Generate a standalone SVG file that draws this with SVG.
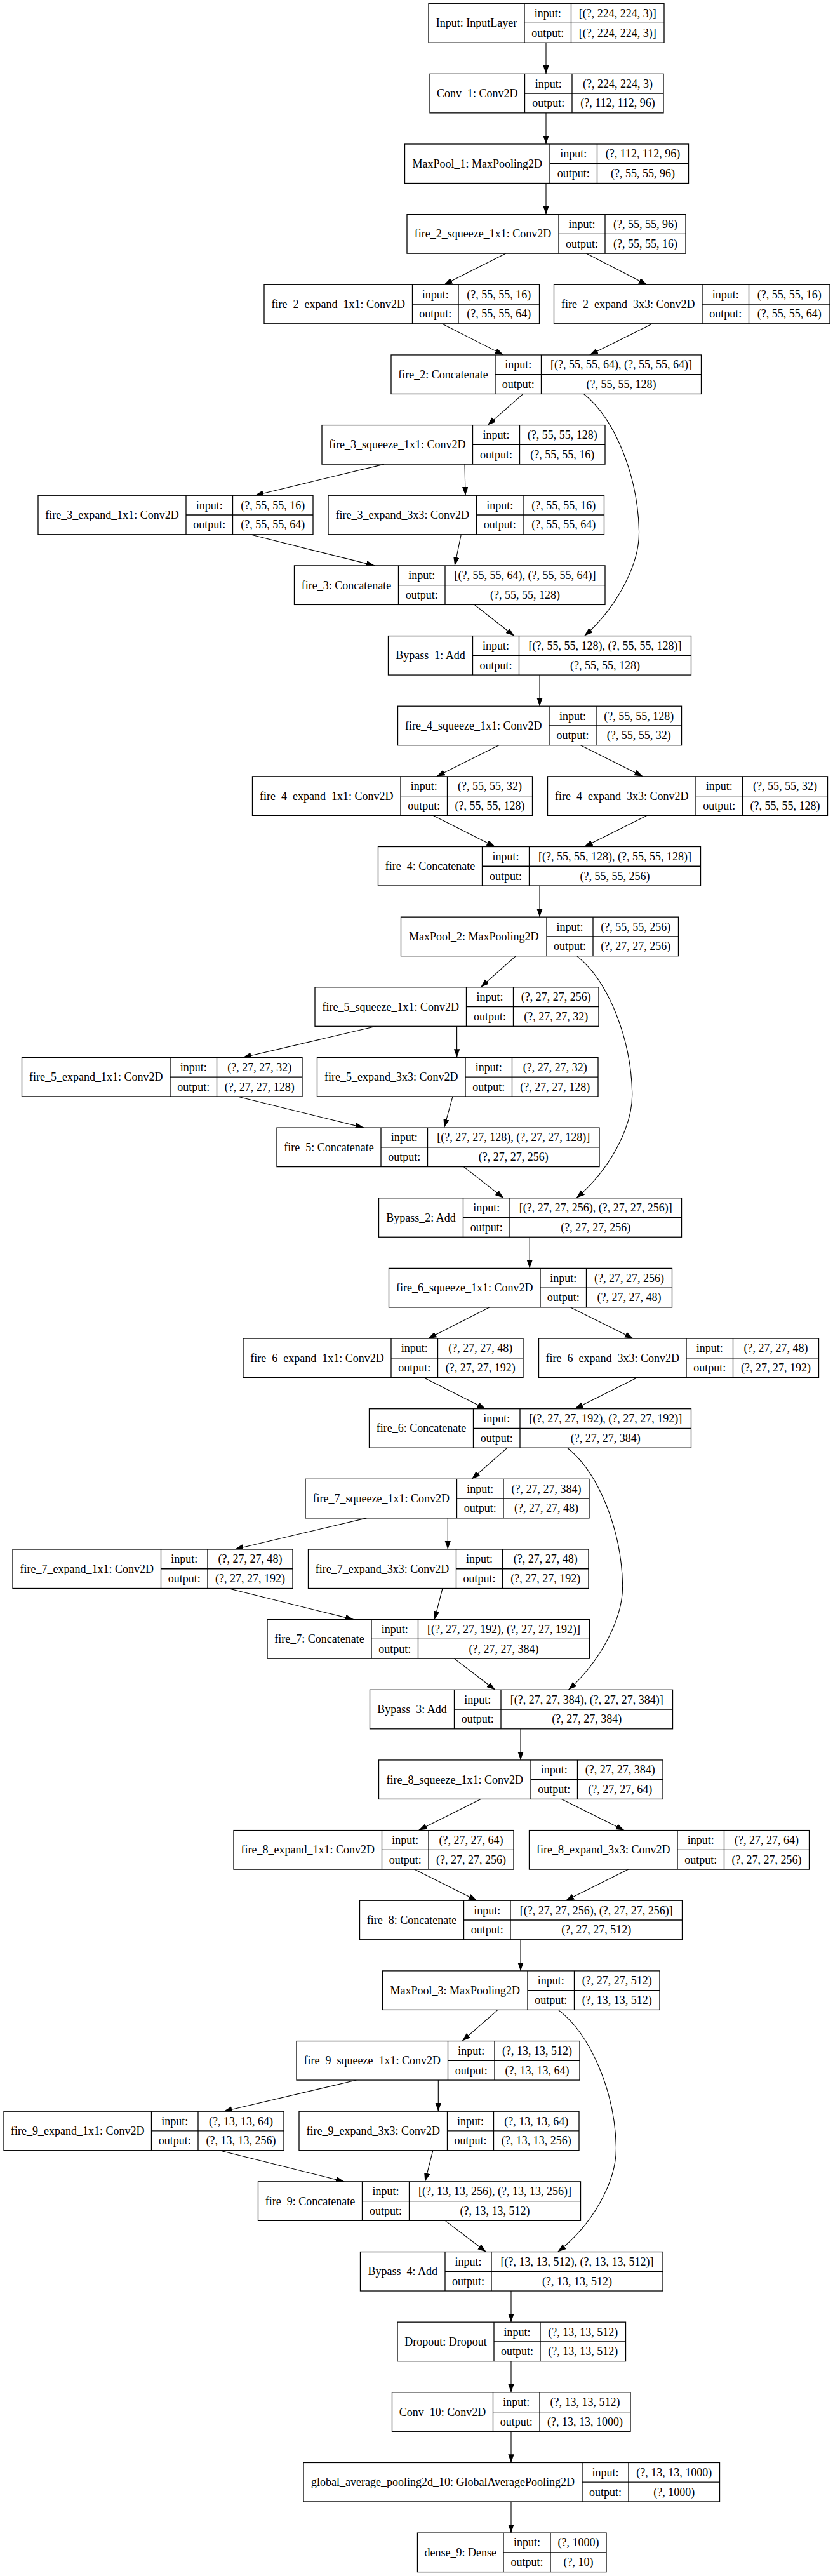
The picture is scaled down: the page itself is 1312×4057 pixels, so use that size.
<svg xmlns="http://www.w3.org/2000/svg" width="1312" height="4057" viewBox="0 0 1312 4057">
<style>
.n rect{fill:#fff;stroke:#000;stroke-width:1.3}
.n line{stroke:#000;stroke-width:1.3}
text{font-family:"Liberation Serif","Times New Roman",serif;font-size:18px;text-anchor:middle;fill:#000}
.e path{fill:none;stroke:#000;stroke-width:1.1;marker-end:url(#ah)}
</style>
<defs>
<marker id="ah" markerUnits="userSpaceOnUse" markerWidth="14" markerHeight="10" refX="13.3" refY="4.7" orient="auto"><path d="M0,0 L13.3,4.7 L0,9.4 z" fill="#000"/></marker>
</defs>
<rect width="1312" height="4057" fill="#fff"/>
<g id="edges" class="e">
<path d="M860,67.2 L860,116.35"/>
<path d="M860,177.85 L860,227"/>
<path d="M860,288.5 L860,337.65"/>
<path d="M796.5,399.15 L699.5,448.3"/>
<path d="M923.7,399.15 L1019,448.3"/>
<path d="M696,509.8 L793,558.95"/>
<path d="M1027.5,509.8 L928.7,558.95"/>
<path d="M824,620.45 L768,669.6"/>
<path d="M919.5,620.45 c50,40 85,130 87,215 c1.5,55 -37,123 -86.1,166.1"/>
<path d="M605,731.1 L401.6,780.25"/>
<path d="M732,731.1 L733,780.25"/>
<path d="M394,841.75 L590,890.9"/>
<path d="M726.3,841.75 L716.2,890.9"/>
<path d="M747.2,952.4 L810,1001.55"/>
<path d="M850,1063.05 L850,1112.2"/>
<path d="M785.7,1173.7 L687.8,1222.85"/>
<path d="M914.5,1173.7 L1012.4,1222.85"/>
<path d="M682,1284.35 L779.8,1333.5"/>
<path d="M1019,1284.35 L920.4,1333.5"/>
<path d="M850,1395 L850,1444.15"/>
<path d="M812.4,1505.65 L757.2,1554.8"/>
<path d="M908.7,1505.65 c50,40 85,130 87,215 c1.5,55 -37,123 -87.9,166.1"/>
<path d="M592.4,1616.3 L382.4,1665.45"/>
<path d="M719.6,1616.3 L719.6,1665.45"/>
<path d="M374,1726.95 L573,1776.1"/>
<path d="M713,1726.95 L699.5,1776.1"/>
<path d="M730.4,1837.6 L793.2,1886.75"/>
<path d="M834.2,1948.25 L834.2,1997.4"/>
<path d="M770.6,2058.9 L674.4,2108.05"/>
<path d="M898.6,2058.9 L997.3,2108.05"/>
<path d="M667,2169.55 L764.7,2218.7"/>
<path d="M1004,2169.55 L905.3,2218.7"/>
<path d="M799,2280.2 L743,2329.35"/>
<path d="M893.6,2280.2 c50,40 85,130 87,215 c1.5,55 -37,123 -85.3,166.1"/>
<path d="M577.3,2390.85 L369.8,2440"/>
<path d="M705.3,2390.85 L705.3,2440"/>
<path d="M359,2501.5 L557.2,2550.65"/>
<path d="M697,2501.5 L684.4,2550.65"/>
<path d="M715.4,2612.15 L779.8,2661.3"/>
<path d="M820,2722.8 L820,2771.95"/>
<path d="M757.2,2833.45 L659.3,2882.6"/>
<path d="M884.4,2833.45 L983.1,2882.6"/>
<path d="M652.6,2944.1 L751.3,2993.25"/>
<path d="M989.8,2944.1 L891,2993.25"/>
<path d="M820,3054.75 L820,3103.9"/>
<path d="M784,3165.4 L727.9,3214.55"/>
<path d="M879.4,3165.4 c52,40 89,130 91,215 c1.5,55 -37,123 -91.9,166.1"/>
<path d="M561.4,3276.05 L352.2,3325.2"/>
<path d="M690.3,3276.05 L690.3,3325.2"/>
<path d="M345.6,3386.7 L542.2,3435.85"/>
<path d="M681.9,3386.7 L669.4,3435.85"/>
<path d="M701.2,3497.35 L765.6,3546.5"/>
<path d="M805,3608 L805,3657.15"/>
<path d="M805,3718.65 L805,3767.8"/>
<path d="M805,3829.3 L805,3878.45"/>
<path d="M805,3939.95 L805,3989.1"/>
</g>

<g id="input" class="n" transform="translate(0,5.7)"><rect x="675" y="0" width="371" height="61.5"/><line x1="826" y1="0" x2="826" y2="61.5"/><line x1="899.5" y1="0" x2="899.5" y2="61.5"/><line x1="826" y1="30.75" x2="1046" y2="30.75"/><text x="750.5" y="36.75">Input: InputLayer</text><text x="862.75" y="21.4">input:</text><text x="862.75" y="52.1">output:</text><text x="972.75" y="21.4">[(?, 224, 224, 3)]</text><text x="972.75" y="52.1">[(?, 224, 224, 3)]</text></g>

<g id="conv_1" class="n" transform="translate(0,116.35)"><rect x="677" y="0" width="368" height="61.5"/><line x1="826.5" y1="0" x2="826.5" y2="61.5"/><line x1="901" y1="0" x2="901" y2="61.5"/><line x1="826.5" y1="30.75" x2="1045" y2="30.75"/><text x="751.75" y="36.75">Conv_1: Conv2D</text><text x="863.75" y="21.4">input:</text><text x="863.75" y="52.1">output:</text><text x="973" y="21.4">(?, 224, 224, 3)</text><text x="973" y="52.1">(?, 112, 112, 96)</text></g>

<g id="maxpool_1" class="n" transform="translate(0,227)"><rect x="637.5" y="0" width="447" height="61.5"/><line x1="866" y1="0" x2="866" y2="61.5"/><line x1="940.5" y1="0" x2="940.5" y2="61.5"/><line x1="866" y1="30.75" x2="1084.5" y2="30.75"/><text x="751.75" y="36.75">MaxPool_1: MaxPooling2D</text><text x="903.25" y="21.4">input:</text><text x="903.25" y="52.1">output:</text><text x="1012.5" y="21.4">(?, 112, 112, 96)</text><text x="1012.5" y="52.1">(?, 55, 55, 96)</text></g>

<g id="fire_2_squeeze_1x1" class="n" transform="translate(0,337.65)"><rect x="641" y="0" width="439" height="61.5"/><line x1="880" y1="0" x2="880" y2="61.5"/><line x1="953" y1="0" x2="953" y2="61.5"/><line x1="880" y1="30.75" x2="1080" y2="30.75"/><text x="760.5" y="36.75">fire_2_squeeze_1x1: Conv2D</text><text x="916.5" y="21.4">input:</text><text x="916.5" y="52.1">output:</text><text x="1016.5" y="21.4">(?, 55, 55, 96)</text><text x="1016.5" y="52.1">(?, 55, 55, 16)</text></g>

<g id="fire_2_expand_1x1" class="n" transform="translate(0,448.3)"><rect x="416" y="0" width="433.5" height="61.5"/><line x1="649.5" y1="0" x2="649.5" y2="61.5"/><line x1="722" y1="0" x2="722" y2="61.5"/><line x1="649.5" y1="30.75" x2="849.5" y2="30.75"/><text x="532.75" y="36.75">fire_2_expand_1x1: Conv2D</text><text x="685.75" y="21.4">input:</text><text x="685.75" y="52.1">output:</text><text x="785.75" y="21.4">(?, 55, 55, 16)</text><text x="785.75" y="52.1">(?, 55, 55, 64)</text></g>

<g id="fire_2_expand_3x3" class="n" transform="translate(0,448.3)"><rect x="872.5" y="0" width="434.5" height="61.5"/><line x1="1106" y1="0" x2="1106" y2="61.5"/><line x1="1179.5" y1="0" x2="1179.5" y2="61.5"/><line x1="1106" y1="30.75" x2="1307" y2="30.75"/><text x="989.25" y="36.75">fire_2_expand_3x3: Conv2D</text><text x="1142.75" y="21.4">input:</text><text x="1142.75" y="52.1">output:</text><text x="1243.25" y="21.4">(?, 55, 55, 16)</text><text x="1243.25" y="52.1">(?, 55, 55, 64)</text></g>

<g id="fire_2" class="n" transform="translate(0,558.95)"><rect x="616" y="0" width="488.5" height="61.5"/><line x1="780" y1="0" x2="780" y2="61.5"/><line x1="852.5" y1="0" x2="852.5" y2="61.5"/><line x1="780" y1="30.75" x2="1104.5" y2="30.75"/><text x="698" y="36.75">fire_2: Concatenate</text><text x="816.25" y="21.4">input:</text><text x="816.25" y="52.1">output:</text><text x="978.5" y="21.4">[(?, 55, 55, 64), (?, 55, 55, 64)]</text><text x="978.5" y="52.1">(?, 55, 55, 128)</text></g>

<g id="fire_3_squeeze_1x1" class="n" transform="translate(0,669.6)"><rect x="507" y="0" width="446" height="61.5"/><line x1="744.5" y1="0" x2="744.5" y2="61.5"/><line x1="818.5" y1="0" x2="818.5" y2="61.5"/><line x1="744.5" y1="30.75" x2="953" y2="30.75"/><text x="625.75" y="36.75">fire_3_squeeze_1x1: Conv2D</text><text x="781.5" y="21.4">input:</text><text x="781.5" y="52.1">output:</text><text x="885.75" y="21.4">(?, 55, 55, 128)</text><text x="885.75" y="52.1">(?, 55, 55, 16)</text></g>

<g id="fire_3_expand_1x1" class="n" transform="translate(0,780.25)"><rect x="60" y="0" width="433" height="61.5"/><line x1="293" y1="0" x2="293" y2="61.5"/><line x1="366.5" y1="0" x2="366.5" y2="61.5"/><line x1="293" y1="30.75" x2="493" y2="30.75"/><text x="176.5" y="36.75">fire_3_expand_1x1: Conv2D</text><text x="329.75" y="21.4">input:</text><text x="329.75" y="52.1">output:</text><text x="429.75" y="21.4">(?, 55, 55, 16)</text><text x="429.75" y="52.1">(?, 55, 55, 64)</text></g>

<g id="fire_3_expand_3x3" class="n" transform="translate(0,780.25)"><rect x="517" y="0" width="434.5" height="61.5"/><line x1="750.5" y1="0" x2="750.5" y2="61.5"/><line x1="824" y1="0" x2="824" y2="61.5"/><line x1="750.5" y1="30.75" x2="951.5" y2="30.75"/><text x="633.75" y="36.75">fire_3_expand_3x3: Conv2D</text><text x="787.25" y="21.4">input:</text><text x="787.25" y="52.1">output:</text><text x="887.75" y="21.4">(?, 55, 55, 16)</text><text x="887.75" y="52.1">(?, 55, 55, 64)</text></g>

<g id="fire_3" class="n" transform="translate(0,890.9)"><rect x="463.5" y="0" width="489.5" height="61.5"/><line x1="627.5" y1="0" x2="627.5" y2="61.5"/><line x1="701" y1="0" x2="701" y2="61.5"/><line x1="627.5" y1="30.75" x2="953" y2="30.75"/><text x="545.5" y="36.75">fire_3: Concatenate</text><text x="664.25" y="21.4">input:</text><text x="664.25" y="52.1">output:</text><text x="827" y="21.4">[(?, 55, 55, 64), (?, 55, 55, 64)]</text><text x="827" y="52.1">(?, 55, 55, 128)</text></g>

<g id="bypass_1" class="n" transform="translate(0,1001.55)"><rect x="611.5" y="0" width="477" height="61.5"/><line x1="744.5" y1="0" x2="744.5" y2="61.5"/><line x1="817.5" y1="0" x2="817.5" y2="61.5"/><line x1="744.5" y1="30.75" x2="1088.5" y2="30.75"/><text x="678" y="36.75">Bypass_1: Add</text><text x="781" y="21.4">input:</text><text x="781" y="52.1">output:</text><text x="953" y="21.4">[(?, 55, 55, 128), (?, 55, 55, 128)]</text><text x="953" y="52.1">(?, 55, 55, 128)</text></g>

<g id="fire_4_squeeze_1x1" class="n" transform="translate(0,1112.2)"><rect x="626.5" y="0" width="447" height="61.5"/><line x1="865" y1="0" x2="865" y2="61.5"/><line x1="939" y1="0" x2="939" y2="61.5"/><line x1="865" y1="30.75" x2="1073.5" y2="30.75"/><text x="745.75" y="36.75">fire_4_squeeze_1x1: Conv2D</text><text x="902" y="21.4">input:</text><text x="902" y="52.1">output:</text><text x="1006.25" y="21.4">(?, 55, 55, 128)</text><text x="1006.25" y="52.1">(?, 55, 55, 32)</text></g>

<g id="fire_4_expand_1x1" class="n" transform="translate(0,1222.85)"><rect x="397.5" y="0" width="441" height="61.5"/><line x1="631" y1="0" x2="631" y2="61.5"/><line x1="704.5" y1="0" x2="704.5" y2="61.5"/><line x1="631" y1="30.75" x2="838.5" y2="30.75"/><text x="514.25" y="36.75">fire_4_expand_1x1: Conv2D</text><text x="667.75" y="21.4">input:</text><text x="667.75" y="52.1">output:</text><text x="771.5" y="21.4">(?, 55, 55, 32)</text><text x="771.5" y="52.1">(?, 55, 55, 128)</text></g>

<g id="fire_4_expand_3x3" class="n" transform="translate(0,1222.85)"><rect x="862.5" y="0" width="441" height="61.5"/><line x1="1096" y1="0" x2="1096" y2="61.5"/><line x1="1169.5" y1="0" x2="1169.5" y2="61.5"/><line x1="1096" y1="30.75" x2="1303.5" y2="30.75"/><text x="979.25" y="36.75">fire_4_expand_3x3: Conv2D</text><text x="1132.75" y="21.4">input:</text><text x="1132.75" y="52.1">output:</text><text x="1236.5" y="21.4">(?, 55, 55, 32)</text><text x="1236.5" y="52.1">(?, 55, 55, 128)</text></g>

<g id="fire_4" class="n" transform="translate(0,1333.5)"><rect x="595.5" y="0" width="508" height="61.5"/><line x1="759.5" y1="0" x2="759.5" y2="61.5"/><line x1="833.5" y1="0" x2="833.5" y2="61.5"/><line x1="759.5" y1="30.75" x2="1103.5" y2="30.75"/><text x="677.5" y="36.75">fire_4: Concatenate</text><text x="796.5" y="21.4">input:</text><text x="796.5" y="52.1">output:</text><text x="968.5" y="21.4">[(?, 55, 55, 128), (?, 55, 55, 128)]</text><text x="968.5" y="52.1">(?, 55, 55, 256)</text></g>

<g id="maxpool_2" class="n" transform="translate(0,1444.15)"><rect x="631.5" y="0" width="437" height="61.5"/><line x1="861" y1="0" x2="861" y2="61.5"/><line x1="934" y1="0" x2="934" y2="61.5"/><line x1="861" y1="30.75" x2="1068.5" y2="30.75"/><text x="746.25" y="36.75">MaxPool_2: MaxPooling2D</text><text x="897.5" y="21.4">input:</text><text x="897.5" y="52.1">output:</text><text x="1001.25" y="21.4">(?, 55, 55, 256)</text><text x="1001.25" y="52.1">(?, 27, 27, 256)</text></g>

<g id="fire_5_squeeze_1x1" class="n" transform="translate(0,1554.8)"><rect x="496" y="0" width="447" height="61.5"/><line x1="734.5" y1="0" x2="734.5" y2="61.5"/><line x1="808.5" y1="0" x2="808.5" y2="61.5"/><line x1="734.5" y1="30.75" x2="943" y2="30.75"/><text x="615.25" y="36.75">fire_5_squeeze_1x1: Conv2D</text><text x="771.5" y="21.4">input:</text><text x="771.5" y="52.1">output:</text><text x="875.75" y="21.4">(?, 27, 27, 256)</text><text x="875.75" y="52.1">(?, 27, 27, 32)</text></g>

<g id="fire_5_expand_1x1" class="n" transform="translate(0,1665.45)"><rect x="34.5" y="0" width="441.5" height="61.5"/><line x1="268" y1="0" x2="268" y2="61.5"/><line x1="341.5" y1="0" x2="341.5" y2="61.5"/><line x1="268" y1="30.75" x2="476" y2="30.75"/><text x="151.25" y="36.75">fire_5_expand_1x1: Conv2D</text><text x="304.75" y="21.4">input:</text><text x="304.75" y="52.1">output:</text><text x="408.75" y="21.4">(?, 27, 27, 32)</text><text x="408.75" y="52.1">(?, 27, 27, 128)</text></g>

<g id="fire_5_expand_3x3" class="n" transform="translate(0,1665.45)"><rect x="499.5" y="0" width="442.5" height="61.5"/><line x1="733" y1="0" x2="733" y2="61.5"/><line x1="806.5" y1="0" x2="806.5" y2="61.5"/><line x1="733" y1="30.75" x2="942" y2="30.75"/><text x="616.25" y="36.75">fire_5_expand_3x3: Conv2D</text><text x="769.75" y="21.4">input:</text><text x="769.75" y="52.1">output:</text><text x="874.25" y="21.4">(?, 27, 27, 32)</text><text x="874.25" y="52.1">(?, 27, 27, 128)</text></g>

<g id="fire_5" class="n" transform="translate(0,1776.1)"><rect x="436" y="0" width="508" height="61.5"/><line x1="600" y1="0" x2="600" y2="61.5"/><line x1="673.5" y1="0" x2="673.5" y2="61.5"/><line x1="600" y1="30.75" x2="944" y2="30.75"/><text x="518" y="36.75">fire_5: Concatenate</text><text x="636.75" y="21.4">input:</text><text x="636.75" y="52.1">output:</text><text x="808.75" y="21.4">[(?, 27, 27, 128), (?, 27, 27, 128)]</text><text x="808.75" y="52.1">(?, 27, 27, 256)</text></g>

<g id="bypass_2" class="n" transform="translate(0,1886.75)"><rect x="596.5" y="0" width="477" height="61.5"/><line x1="729.5" y1="0" x2="729.5" y2="61.5"/><line x1="803" y1="0" x2="803" y2="61.5"/><line x1="729.5" y1="30.75" x2="1073.5" y2="30.75"/><text x="663" y="36.75">Bypass_2: Add</text><text x="766.25" y="21.4">input:</text><text x="766.25" y="52.1">output:</text><text x="938.25" y="21.4">[(?, 27, 27, 256), (?, 27, 27, 256)]</text><text x="938.25" y="52.1">(?, 27, 27, 256)</text></g>

<g id="fire_6_squeeze_1x1" class="n" transform="translate(0,1997.4)"><rect x="612.5" y="0" width="446" height="61.5"/><line x1="851" y1="0" x2="851" y2="61.5"/><line x1="923.5" y1="0" x2="923.5" y2="61.5"/><line x1="851" y1="30.75" x2="1058.5" y2="30.75"/><text x="731.75" y="36.75">fire_6_squeeze_1x1: Conv2D</text><text x="887.25" y="21.4">input:</text><text x="887.25" y="52.1">output:</text><text x="991" y="21.4">(?, 27, 27, 256)</text><text x="991" y="52.1">(?, 27, 27, 48)</text></g>

<g id="fire_6_expand_1x1" class="n" transform="translate(0,2108.05)"><rect x="383" y="0" width="441" height="61.5"/><line x1="616" y1="0" x2="616" y2="61.5"/><line x1="689.5" y1="0" x2="689.5" y2="61.5"/><line x1="616" y1="30.75" x2="824" y2="30.75"/><text x="499.5" y="36.75">fire_6_expand_1x1: Conv2D</text><text x="652.75" y="21.4">input:</text><text x="652.75" y="52.1">output:</text><text x="756.75" y="21.4">(?, 27, 27, 48)</text><text x="756.75" y="52.1">(?, 27, 27, 192)</text></g>

<g id="fire_6_expand_3x3" class="n" transform="translate(0,2108.05)"><rect x="848.5" y="0" width="441" height="61.5"/><line x1="1081" y1="0" x2="1081" y2="61.5"/><line x1="1154.5" y1="0" x2="1154.5" y2="61.5"/><line x1="1081" y1="30.75" x2="1289.5" y2="30.75"/><text x="964.75" y="36.75">fire_6_expand_3x3: Conv2D</text><text x="1117.75" y="21.4">input:</text><text x="1117.75" y="52.1">output:</text><text x="1222" y="21.4">(?, 27, 27, 48)</text><text x="1222" y="52.1">(?, 27, 27, 192)</text></g>

<g id="fire_6" class="n" transform="translate(0,2218.7)"><rect x="581.5" y="0" width="507" height="61.5"/><line x1="745.5" y1="0" x2="745.5" y2="61.5"/><line x1="819" y1="0" x2="819" y2="61.5"/><line x1="745.5" y1="30.75" x2="1088.5" y2="30.75"/><text x="663.5" y="36.75">fire_6: Concatenate</text><text x="782.25" y="21.4">input:</text><text x="782.25" y="52.1">output:</text><text x="953.75" y="21.4">[(?, 27, 27, 192), (?, 27, 27, 192)]</text><text x="953.75" y="52.1">(?, 27, 27, 384)</text></g>

<g id="fire_7_squeeze_1x1" class="n" transform="translate(0,2329.35)"><rect x="481" y="0" width="447" height="61.5"/><line x1="719.5" y1="0" x2="719.5" y2="61.5"/><line x1="793" y1="0" x2="793" y2="61.5"/><line x1="719.5" y1="30.75" x2="928" y2="30.75"/><text x="600.25" y="36.75">fire_7_squeeze_1x1: Conv2D</text><text x="756.25" y="21.4">input:</text><text x="756.25" y="52.1">output:</text><text x="860.5" y="21.4">(?, 27, 27, 384)</text><text x="860.5" y="52.1">(?, 27, 27, 48)</text></g>

<g id="fire_7_expand_1x1" class="n" transform="translate(0,2440)"><rect x="20" y="0" width="441" height="61.5"/><line x1="253.5" y1="0" x2="253.5" y2="61.5"/><line x1="327" y1="0" x2="327" y2="61.5"/><line x1="253.5" y1="30.75" x2="461" y2="30.75"/><text x="136.75" y="36.75">fire_7_expand_1x1: Conv2D</text><text x="290.25" y="21.4">input:</text><text x="290.25" y="52.1">output:</text><text x="394" y="21.4">(?, 27, 27, 48)</text><text x="394" y="52.1">(?, 27, 27, 192)</text></g>

<g id="fire_7_expand_3x3" class="n" transform="translate(0,2440)"><rect x="485.5" y="0" width="441.5" height="61.5"/><line x1="718.5" y1="0" x2="718.5" y2="61.5"/><line x1="791.5" y1="0" x2="791.5" y2="61.5"/><line x1="718.5" y1="30.75" x2="927" y2="30.75"/><text x="602" y="36.75">fire_7_expand_3x3: Conv2D</text><text x="755" y="21.4">input:</text><text x="755" y="52.1">output:</text><text x="859.25" y="21.4">(?, 27, 27, 48)</text><text x="859.25" y="52.1">(?, 27, 27, 192)</text></g>

<g id="fire_7" class="n" transform="translate(0,2550.65)"><rect x="421" y="0" width="507.5" height="61.5"/><line x1="585" y1="0" x2="585" y2="61.5"/><line x1="658.5" y1="0" x2="658.5" y2="61.5"/><line x1="585" y1="30.75" x2="928.5" y2="30.75"/><text x="503" y="36.75">fire_7: Concatenate</text><text x="621.75" y="21.4">input:</text><text x="621.75" y="52.1">output:</text><text x="793.5" y="21.4">[(?, 27, 27, 192), (?, 27, 27, 192)]</text><text x="793.5" y="52.1">(?, 27, 27, 384)</text></g>

<g id="bypass_3" class="n" transform="translate(0,2661.3)"><rect x="582.5" y="0" width="477" height="61.5"/><line x1="715.5" y1="0" x2="715.5" y2="61.5"/><line x1="789" y1="0" x2="789" y2="61.5"/><line x1="715.5" y1="30.75" x2="1059.5" y2="30.75"/><text x="649" y="36.75">Bypass_3: Add</text><text x="752.25" y="21.4">input:</text><text x="752.25" y="52.1">output:</text><text x="924.25" y="21.4">[(?, 27, 27, 384), (?, 27, 27, 384)]</text><text x="924.25" y="52.1">(?, 27, 27, 384)</text></g>

<g id="fire_8_squeeze_1x1" class="n" transform="translate(0,2771.95)"><rect x="596.5" y="0" width="447.5" height="61.5"/><line x1="836" y1="0" x2="836" y2="61.5"/><line x1="909.5" y1="0" x2="909.5" y2="61.5"/><line x1="836" y1="30.75" x2="1044" y2="30.75"/><text x="716.25" y="36.75">fire_8_squeeze_1x1: Conv2D</text><text x="872.75" y="21.4">input:</text><text x="872.75" y="52.1">output:</text><text x="976.75" y="21.4">(?, 27, 27, 384)</text><text x="976.75" y="52.1">(?, 27, 27, 64)</text></g>

<g id="fire_8_expand_1x1" class="n" transform="translate(0,2882.6)"><rect x="368" y="0" width="441" height="61.5"/><line x1="601.5" y1="0" x2="601.5" y2="61.5"/><line x1="675" y1="0" x2="675" y2="61.5"/><line x1="601.5" y1="30.75" x2="809" y2="30.75"/><text x="484.75" y="36.75">fire_8_expand_1x1: Conv2D</text><text x="638.25" y="21.4">input:</text><text x="638.25" y="52.1">output:</text><text x="742" y="21.4">(?, 27, 27, 64)</text><text x="742" y="52.1">(?, 27, 27, 256)</text></g>

<g id="fire_8_expand_3x3" class="n" transform="translate(0,2882.6)"><rect x="833.5" y="0" width="441" height="61.5"/><line x1="1067" y1="0" x2="1067" y2="61.5"/><line x1="1140.5" y1="0" x2="1140.5" y2="61.5"/><line x1="1067" y1="30.75" x2="1274.5" y2="30.75"/><text x="950.25" y="36.75">fire_8_expand_3x3: Conv2D</text><text x="1103.75" y="21.4">input:</text><text x="1103.75" y="52.1">output:</text><text x="1207.5" y="21.4">(?, 27, 27, 64)</text><text x="1207.5" y="52.1">(?, 27, 27, 256)</text></g>

<g id="fire_8" class="n" transform="translate(0,2993.25)"><rect x="566.5" y="0" width="508" height="61.5"/><line x1="730.5" y1="0" x2="730.5" y2="61.5"/><line x1="804" y1="0" x2="804" y2="61.5"/><line x1="730.5" y1="30.75" x2="1074.5" y2="30.75"/><text x="648.5" y="36.75">fire_8: Concatenate</text><text x="767.25" y="21.4">input:</text><text x="767.25" y="52.1">output:</text><text x="939.25" y="21.4">[(?, 27, 27, 256), (?, 27, 27, 256)]</text><text x="939.25" y="52.1">(?, 27, 27, 512)</text></g>

<g id="maxpool_3" class="n" transform="translate(0,3103.9)"><rect x="602.5" y="0" width="436.5" height="61.5"/><line x1="831" y1="0" x2="831" y2="61.5"/><line x1="904.5" y1="0" x2="904.5" y2="61.5"/><line x1="831" y1="30.75" x2="1039" y2="30.75"/><text x="716.75" y="36.75">MaxPool_3: MaxPooling2D</text><text x="867.75" y="21.4">input:</text><text x="867.75" y="52.1">output:</text><text x="971.75" y="21.4">(?, 27, 27, 512)</text><text x="971.75" y="52.1">(?, 13, 13, 512)</text></g>

<g id="fire_9_squeeze_1x1" class="n" transform="translate(0,3214.55)"><rect x="467" y="0" width="446" height="61.5"/><line x1="705.5" y1="0" x2="705.5" y2="61.5"/><line x1="779" y1="0" x2="779" y2="61.5"/><line x1="705.5" y1="30.75" x2="913" y2="30.75"/><text x="586.25" y="36.75">fire_9_squeeze_1x1: Conv2D</text><text x="742.25" y="21.4">input:</text><text x="742.25" y="52.1">output:</text><text x="846" y="21.4">(?, 13, 13, 512)</text><text x="846" y="52.1">(?, 13, 13, 64)</text></g>

<g id="fire_9_expand_1x1" class="n" transform="translate(0,3325.2)"><rect x="6" y="0" width="441" height="61.5"/><line x1="238.5" y1="0" x2="238.5" y2="61.5"/><line x1="312" y1="0" x2="312" y2="61.5"/><line x1="238.5" y1="30.75" x2="447" y2="30.75"/><text x="122.25" y="36.75">fire_9_expand_1x1: Conv2D</text><text x="275.25" y="21.4">input:</text><text x="275.25" y="52.1">output:</text><text x="379.5" y="21.4">(?, 13, 13, 64)</text><text x="379.5" y="52.1">(?, 13, 13, 256)</text></g>

<g id="fire_9_expand_3x3" class="n" transform="translate(0,3325.2)"><rect x="471" y="0" width="441" height="61.5"/><line x1="704.5" y1="0" x2="704.5" y2="61.5"/><line x1="777.5" y1="0" x2="777.5" y2="61.5"/><line x1="704.5" y1="30.75" x2="912" y2="30.75"/><text x="587.75" y="36.75">fire_9_expand_3x3: Conv2D</text><text x="741" y="21.4">input:</text><text x="741" y="52.1">output:</text><text x="844.75" y="21.4">(?, 13, 13, 64)</text><text x="844.75" y="52.1">(?, 13, 13, 256)</text></g>

<g id="fire_9" class="n" transform="translate(0,3435.85)"><rect x="406.5" y="0" width="508" height="61.5"/><line x1="570.5" y1="0" x2="570.5" y2="61.5"/><line x1="644.5" y1="0" x2="644.5" y2="61.5"/><line x1="570.5" y1="30.75" x2="914.5" y2="30.75"/><text x="488.5" y="36.75">fire_9: Concatenate</text><text x="607.5" y="21.4">input:</text><text x="607.5" y="52.1">output:</text><text x="779.5" y="21.4">[(?, 13, 13, 256), (?, 13, 13, 256)]</text><text x="779.5" y="52.1">(?, 13, 13, 512)</text></g>

<g id="bypass_4" class="n" transform="translate(0,3546.5)"><rect x="567.5" y="0" width="476.5" height="61.5"/><line x1="701" y1="0" x2="701" y2="61.5"/><line x1="774" y1="0" x2="774" y2="61.5"/><line x1="701" y1="30.75" x2="1044" y2="30.75"/><text x="634.25" y="36.75">Bypass_4: Add</text><text x="737.5" y="21.4">input:</text><text x="737.5" y="52.1">output:</text><text x="909" y="21.4">[(?, 13, 13, 512), (?, 13, 13, 512)]</text><text x="909" y="52.1">(?, 13, 13, 512)</text></g>

<g id="dropout" class="n" transform="translate(0,3657.15)"><rect x="626" y="0" width="359.5" height="61.5"/><line x1="778" y1="0" x2="778" y2="61.5"/><line x1="851" y1="0" x2="851" y2="61.5"/><line x1="778" y1="30.75" x2="985.5" y2="30.75"/><text x="702" y="36.75">Dropout: Dropout</text><text x="814.5" y="21.4">input:</text><text x="814.5" y="52.1">output:</text><text x="918.25" y="21.4">(?, 13, 13, 512)</text><text x="918.25" y="52.1">(?, 13, 13, 512)</text></g>

<g id="conv_10" class="n" transform="translate(0,3767.8)"><rect x="617.5" y="0" width="375.5" height="61.5"/><line x1="776.5" y1="0" x2="776.5" y2="61.5"/><line x1="850" y1="0" x2="850" y2="61.5"/><line x1="776.5" y1="30.75" x2="993" y2="30.75"/><text x="697" y="36.75">Conv_10: Conv2D</text><text x="813.25" y="21.4">input:</text><text x="813.25" y="52.1">output:</text><text x="921.5" y="21.4">(?, 13, 13, 512)</text><text x="921.5" y="52.1">(?, 13, 13, 1000)</text></g>

<g id="global_average_pooling2d_10" class="n" transform="translate(0,3878.45)"><rect x="478" y="0" width="655.5" height="61.5"/><line x1="917" y1="0" x2="917" y2="61.5"/><line x1="990" y1="0" x2="990" y2="61.5"/><line x1="917" y1="30.75" x2="1133.5" y2="30.75"/><text x="697.5" y="36.75">global_average_pooling2d_10: GlobalAveragePooling2D</text><text x="953.5" y="21.4">input:</text><text x="953.5" y="52.1">output:</text><text x="1061.75" y="21.4">(?, 13, 13, 1000)</text><text x="1061.75" y="52.1">(?, 1000)</text></g>

<g id="dense_9" class="n" transform="translate(0,3989.1)"><rect x="657.5" y="0" width="297.5" height="61.5"/><line x1="793" y1="0" x2="793" y2="61.5"/><line x1="867" y1="0" x2="867" y2="61.5"/><line x1="793" y1="30.75" x2="955" y2="30.75"/><text x="725.25" y="36.75">dense_9: Dense</text><text x="830" y="21.4">input:</text><text x="830" y="52.1">output:</text><text x="911" y="21.4">(?, 1000)</text><text x="911" y="52.1">(?, 10)</text></g>
</svg>
